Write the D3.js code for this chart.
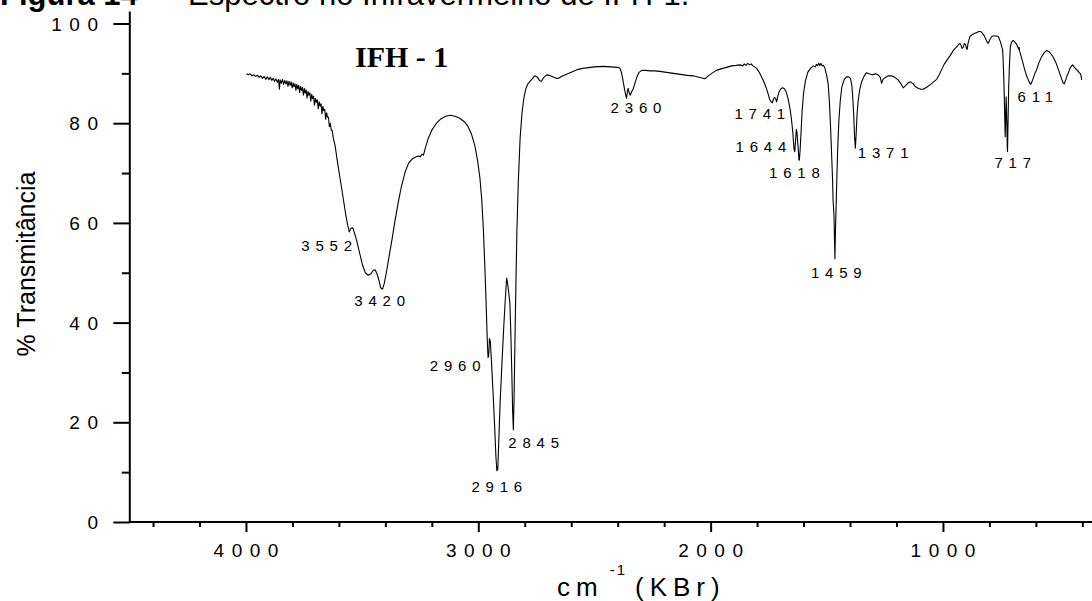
<!DOCTYPE html>
<html>
<head>
<meta charset="utf-8">
<script src="https://cdn.jsdelivr.net/npm/d3@7"></script>
<style>
  body { margin: 0; background: #fff; }
  svg { display: block; }
</style>
</head>
<body>
<svg id="chart" width="1092" height="601"></svg>
<script>
// IR spectrum of IFH-1 (KBr pellet): wavenumber (cm-1) and % transmittance
const wavenumbers = [
  3998, 3990, 3982, 3974, 3966, 3958, 3950, 3943, 3936, 3929, 3922, 3915, 3908, 3901, 3895, 3889,
  3883, 3877, 3871, 3865, 3860, 3856, 3853, 3848, 3843, 3838, 3833, 3828, 3824, 3819, 3815, 3810,
  3806, 3801, 3797, 3793, 3789, 3785, 3781, 3777, 3773, 3769, 3765, 3761, 3757, 3753, 3749, 3745,
  3741, 3737, 3733, 3729, 3725, 3721, 3717, 3713, 3709, 3705, 3701, 3697, 3693, 3689, 3685, 3681,
  3677, 3673, 3669, 3665, 3661, 3657, 3653, 3649, 3645, 3641, 3637, 3633, 3629, 3624,
  3616, 3608, 3600, 3590, 3580, 3570, 3562, 3555,
  3548, 3540, 3532, 3522, 3510, 3498, 3486, 3474, 3462, 3452, 3444, 3436, 3428, 3420, 3412, 3405,
  3395, 3385, 3372, 3360, 3345, 3330, 3315, 3300, 3285, 3270, 3258, 3248, 3242, 3236, 3228, 3215,
  3200, 3180, 3160, 3140, 3120, 3100, 3080, 3060, 3045, 3030, 3015, 3003, 2993, 2985, 2978, 2972,
  2966, 2961, 2958, 2955, 2952, 2948, 2942, 2936, 2930, 2924, 2920, 2916, 2912, 2906, 2898, 2890,
  2884, 2878, 2874, 2869, 2864, 2860, 2856, 2852, 2849, 2846, 2842, 2838, 2834, 2828, 2820, 2812,
  2804, 2795, 2785, 2770, 2757, 2745, 2735, 2728, 2718, 2705, 2695, 2680, 2665, 2655, 2640, 2625,
  2610, 2590, 2570, 2550, 2534, 2500, 2462, 2430, 2400, 2390, 2384, 2378, 2372, 2366, 2362, 2358,
  2355, 2351, 2346, 2340, 2334, 2326, 2318, 2308, 2296, 2280, 2260, 2240, 2218, 2190, 2160, 2130,
  2100, 2075, 2050, 2025, 2010, 1995, 1975, 1955, 1932, 1910, 1890, 1874, 1862, 1855, 1848, 1840,
  1832, 1825, 1818, 1810, 1802, 1792, 1781, 1770, 1760, 1752, 1746, 1740, 1734, 1730, 1725, 1720,
  1716, 1712, 1706, 1698, 1690, 1682, 1674, 1666, 1658, 1652, 1646, 1641, 1638, 1635, 1631, 1628,
  1624, 1620, 1618, 1615, 1611, 1606, 1600, 1592, 1582, 1570, 1558, 1550, 1545, 1540, 1535, 1530,
  1525, 1520, 1514, 1508, 1500, 1494, 1489, 1484, 1479, 1475, 1473, 1471, 1469, 1467, 1465, 1463,
  1460, 1457, 1453, 1448, 1442, 1435, 1425, 1415, 1405, 1398, 1392, 1388, 1384, 1380, 1377, 1374,
  1370, 1365, 1358, 1350, 1340, 1330, 1318, 1305, 1290, 1279, 1270, 1264, 1258, 1250, 1235, 1221,
  1207, 1193, 1182, 1171, 1160, 1150, 1139, 1128, 1118, 1107, 1095, 1085, 1070, 1056, 1045, 1035,
  1027, 1015, 1005, 995, 985, 970, 955, 941, 932, 927, 922, 918, 913, 908, 903, 899,
  896, 892, 884, 870, 855, 845, 838, 830, 823, 815, 810, 805, 798, 790, 784, 770,
  762, 754, 748, 743, 740, 737, 734, 732, 730, 728, 725, 723, 722, 720, 717, 714,
  710, 705, 698, 691, 684, 678, 674, 672, 670, 667, 660, 654, 648, 640, 632, 626,
  622, 618, 610, 604, 597, 588, 576, 565, 554, 545, 535, 526, 515, 505, 497, 490,
  484, 478, 472, 466, 461, 455, 448, 442, 436, 430, 425, 420, 415, 410, 406, 403
];

const transmittance = [
  89.9, 89.7, 89.9, 89.5, 89.7, 89.4, 89.6, 89.2, 89.5, 89.0, 89.4, 88.8, 89.3, 88.7, 89.2, 88.6,
  89.0, 88.4, 88.9, 88.2, 88.8, 86.8, 88.7, 88.0, 88.8, 87.8, 88.6, 87.9, 88.5, 87.4, 88.4, 87.6,
  88.3, 87.1, 88.1, 87.3, 87.9, 86.6, 87.8, 86.9, 87.6, 86.1, 87.4, 86.6, 87.2, 85.6, 87.0, 86.0,
  86.7, 85.0, 86.4, 85.6, 86.1, 84.4, 85.8, 84.9, 85.4, 83.6, 85.0, 84.2, 84.7, 82.9, 84.3, 83.4,
  83.9, 81.9, 83.4, 82.5, 82.8, 80.8, 82.1, 81.2, 81.2, 79.3, 80.0, 78.6, 78.6, 77.0,
  75.4, 72.8, 70.4, 67.5, 64.5, 61.5, 59.5, 58.2,
  58.9, 59.0, 57.8, 56.2, 53.8, 51.5, 50.0, 49.5, 49.8, 50.5, 50.6, 49.8, 48.5, 47.0, 46.7, 47.8,
  50.2, 53.0, 56.5, 60.0, 64.0, 67.5, 70.2, 72.0, 72.8, 73.2, 73.4, 73.3, 73.8, 73.6, 75.0, 77.0,
  78.6, 80.0, 80.9, 81.4, 81.6, 81.4, 81.0, 80.3, 79.4, 77.9, 75.5, 72.5, 69.0, 64.5, 58.5, 51.5,
  43.5, 36.0, 33.0, 33.4, 36.8, 36.2, 31.0, 25.5, 19.5, 13.0, 10.3, 10.6, 16.0, 24.0, 32.0, 39.5,
  44.5, 48.9, 48.0, 46.0, 43.8, 38.0, 30.5, 22.0, 18.5, 25.0, 37.0, 48.0, 58.0, 68.0, 77.0, 82.0,
  85.0, 87.0, 88.0, 88.8, 89.5, 89.2, 88.5, 88.4, 89.2, 89.7, 89.6, 89.3, 89.0, 89.0, 89.4, 89.7,
  90.0, 90.4, 90.8, 91.0, 91.1, 91.3, 91.4, 91.3, 91.2, 91.0, 90.2, 88.8, 87.2, 85.8, 85.0, 86.4,
  87.0, 86.2, 85.6, 86.3, 86.8, 88.0, 89.2, 90.2, 90.6, 90.6, 90.5, 90.5, 90.4, 90.2, 90.0, 89.8,
  89.6, 89.5, 89.2, 88.9, 89.5, 90.0, 90.6, 90.9, 91.2, 91.5, 91.6, 91.7, 91.5, 91.9, 91.6, 92.0,
  91.7, 91.9, 91.5, 91.3, 91.0, 90.3, 89.3, 88.2, 87.0, 85.8, 84.8, 84.3, 84.1, 84.8, 85.2, 84.9,
  84.3, 85.2, 86.2, 86.9, 87.1, 86.9, 86.2, 84.8, 82.8, 80.8, 78.0, 74.8, 74.3, 76.0, 78.8, 78.0,
  75.5, 72.7, 72.6, 74.5, 78.0, 82.5, 86.0, 88.5, 90.2, 91.0, 91.5, 91.3, 91.8, 91.5, 92.0, 91.6,
  92.0, 91.5, 91.6, 91.0, 89.5, 87.8, 84.5, 79.5, 73.5, 68.5, 64.5, 63.2, 61.5, 57.0, 52.8, 58.0,
  63.0, 68.5, 75.0, 80.5, 84.5, 87.3, 88.8, 89.3, 89.3, 89.0, 87.5, 85.0, 81.5, 77.0, 75.0, 77.5,
  81.5, 84.5, 86.8, 88.3, 89.4, 90.1, 89.9, 89.7, 89.9, 89.7, 89.2, 88.0, 88.8, 89.1, 89.5, 89.5,
  89.2, 88.7, 88.0, 87.1, 87.6, 88.1, 88.3, 87.9, 87.3, 87.0, 86.8, 86.8, 87.2, 87.7, 88.1, 88.5,
  88.8, 89.8, 90.8, 91.8, 92.5, 93.5, 94.6, 95.3, 95.8, 96.0, 95.6, 95.0, 95.2, 96.0, 95.8, 95.0,
  94.8, 96.0, 97.4, 97.9, 98.2, 98.4, 98.4, 98.0, 97.6, 96.8, 96.3, 96.0, 96.8, 97.4, 97.5, 97.5,
  97.4, 96.5, 95.5, 94.7, 91.5, 87.3, 81.0, 77.3, 81.5, 85.3, 80.0, 75.0, 74.3, 80.0, 87.3, 91.5,
  95.3, 96.2, 96.6, 96.3, 95.9, 95.3, 94.8, 95.2, 94.5, 94.0, 92.8, 91.8, 90.7, 89.5, 88.6, 88.0,
  87.8, 88.2, 89.2, 90.0, 90.7, 92.0, 93.3, 94.1, 94.6, 94.4, 93.9, 93.3, 92.3, 91.0, 90.0, 89.0,
  88.2, 87.9, 88.6, 89.5, 90.0, 90.8, 91.4, 91.7, 91.3, 91.0, 90.7, 90.6, 90.2, 90.0, 89.6, 88.7
];

// Annotated band positions (cm-1) and the transmittance at each band tip
const peakLabels = ["3552", "3420", "2960", "2916", "2845", "2360", "1741", "1644", "1618", "1459", "1371", "717", "611"];
const peakTips   = [58.2, 46.7, 33.0, 10.3, 18.5, 85.0, 84.1, 74.3, 72.6, 52.8, 75.0, 74.3, 87.8];

const xMajorTicks = [4000, 3000, 2000, 1000];
const xMinorTicks = [4400, 4200, 3800, 3600, 3400, 3200, 2800, 2600, 2400, 2200, 1800, 1600, 1400, 1200, 800, 600, 400];
const yMajorTicks = [0, 20, 40, 60, 80, 100];
const yMinorTicks = [10, 30, 50, 70, 90];

const figureNumber = "Figura 14";
const figureCaption = "Espectro no Infravermelho de IFH-1.";
const sampleName = "IFH - 1";
const yTitle = "% Transmitância";

// ---- layout -------------------------------------------------------------
const W = 1092, H = 601;
const svg = d3.select("#chart");
const sans = "'Liberation Sans', Arial, Helvetica, sans-serif";

const x = d3.scaleLinear().domain([4500, 0]).range([129.8, 129.8 + 4500 * 0.23233]);
const y = d3.scaleLinear().domain([0, 100]).range([522, 23.5]);

// placement of each band label relative to its band tip (px)
const labelPlacement = {
  "3552": { anchor: "end",    dx: 2,  dy: 19 },
  "3420": { anchor: "middle", dx: -1, dy: 17 },
  "2960": { anchor: "end",    dx: -7, dy: 14 },
  "2916": { anchor: "middle", dx: -1, dy: 21 },
  "2845": { anchor: "start",  dx: -6, dy: 18 },
  "2360": { anchor: "middle", dx: 9,  dy: 15 },
  "1741": { anchor: "middle", dx: -11, dy: 16 },
  "1644": { anchor: "end",    dx: -7, dy: 0 },
  "1618": { anchor: "middle", dx: -5, dy: 18 },
  "1459": { anchor: "middle", dx: 0,  dy: 19 },
  "1371": { anchor: "start",  dx: 1,  dy: 10 },
  "717":  { anchor: "middle", dx: 4,  dy: 16 },
  "611":  { anchor: "middle", dx: 2,  dy: 18 }
};

// letter-spaced text anchored on its inked width (trailing spacing excluded)
function spacedText(g, str, px, py, anchor, size, spacing, family) {
  const t = g.append("text")
    .attr("x", px).attr("y", py)
    .attr("font-family", family || sans)
    .attr("font-size", size)
    .attr("letter-spacing", spacing)
    .attr("fill", "#000")
    .text(str);
  const w = t.node().getComputedTextLength() - spacing;
  let sx = px;
  if (anchor === "end") sx = px - w;
  else if (anchor === "middle") sx = px - w / 2;
  t.attr("x", sx);
  return t;
}

// ---- caption, partly above the top edge ---------------------------------
svg.append("text").attr("x", 0).attr("y", 5)
  .attr("font-family", sans).attr("font-size", 31).attr("font-weight", "bold")
  .text(figureNumber);
svg.append("text").attr("x", 188).attr("y", 5)
  .attr("font-family", sans).attr("font-size", 31)
  .text(figureCaption);

// ---- axes ---------------------------------------------------------------
const axisG = svg.append("g").attr("stroke", "#000");

const yMajor = svg.append("g").attr("transform", `translate(${x(4500)},0)`)
  .call(d3.axisLeft(y).tickValues(yMajorTicks).tickSize(16.5).tickFormat(""));
const yMinor = svg.append("g").attr("transform", `translate(${x(4500)},0)`)
  .call(d3.axisLeft(y).tickValues(yMinorTicks).tickSize(8).tickFormat(""));
const xMajor = svg.append("g").attr("transform", `translate(0,${y(0)})`)
  .call(d3.axisBottom(x).tickValues(xMajorTicks).tickSize(10).tickFormat(""));
const xMinor = svg.append("g").attr("transform", `translate(0,${y(0)})`)
  .call(d3.axisBottom(x).tickValues(xMinorTicks).tickSize(5).tickFormat(""));

[yMajor, yMinor, xMajor, xMinor].forEach(g => {
  g.select(".domain").remove();
  g.selectAll(".tick line").attr("stroke", "#000").attr("stroke-width", 2);
});

// axis lines
axisG.append("line")
  .attr("x1", x(4500)).attr("x2", x(4500))
  .attr("y1", y(102.4)).attr("y2", y(0) + 1)
  .attr("stroke-width", 2);
axisG.append("line")
  .attr("x1", x(4500) - 1).attr("x2", W)
  .attr("y1", y(0)).attr("y2", y(0))
  .attr("stroke-width", 2);

// tick labels
const tickLabels = svg.append("g");
yMajorTicks.forEach(v => {
  spacedText(tickLabels, String(v), 98, y(v) + 7, "end", 19, 7.5);
});
xMajorTicks.forEach(v => {
  spacedText(tickLabels, String(v), x(v), 557, "middle", 19, 7.5);
});

// axis titles
const xt = svg.append("text")
  .attr("x", 557).attr("y", 596)
  .attr("font-family", sans).attr("font-size", 26).attr("fill", "#000");
xt.append("tspan").attr("letter-spacing", 6).text("cm");
xt.append("tspan").attr("font-size", 15).attr("dx", 6).attr("dy", -21).attr("letter-spacing", 2).text("-1");
xt.append("tspan").attr("dy", 21).attr("dx", 8).attr("letter-spacing", 6).text("(KBr)");

svg.append("text")
  .attr("transform", `translate(35,264) rotate(-90)`)
  .attr("text-anchor", "middle")
  .attr("font-family", sans).attr("font-size", 25).attr("fill", "#000")
  .text(yTitle);

// sample name
svg.append("text").attr("x", 355).attr("y", 67)
  .attr("font-family", "'Liberation Serif', 'Times New Roman', serif")
  .attr("font-size", 30).attr("font-weight", "bold")
  .text(sampleName);

// ---- spectrum -----------------------------------------------------------
const points = wavenumbers.map((w, i) => [w, transmittance[i]]);
const line = d3.line().x(d => x(d[0])).y(d => y(d[1]));
svg.append("path")
  .datum(points)
  .attr("d", line)
  .attr("fill", "none")
  .attr("stroke", "#000")
  .attr("stroke-width", 1.1)
  .attr("stroke-linejoin", "round");

// ---- band labels --------------------------------------------------------
const bandG = svg.append("g");
peakLabels.forEach((lab, i) => {
  const p = labelPlacement[lab];
  spacedText(bandG, lab, x(+lab) + p.dx, y(peakTips[i]) + p.dy, p.anchor, 15, 5.8);
});
</script>
</body>
</html>
